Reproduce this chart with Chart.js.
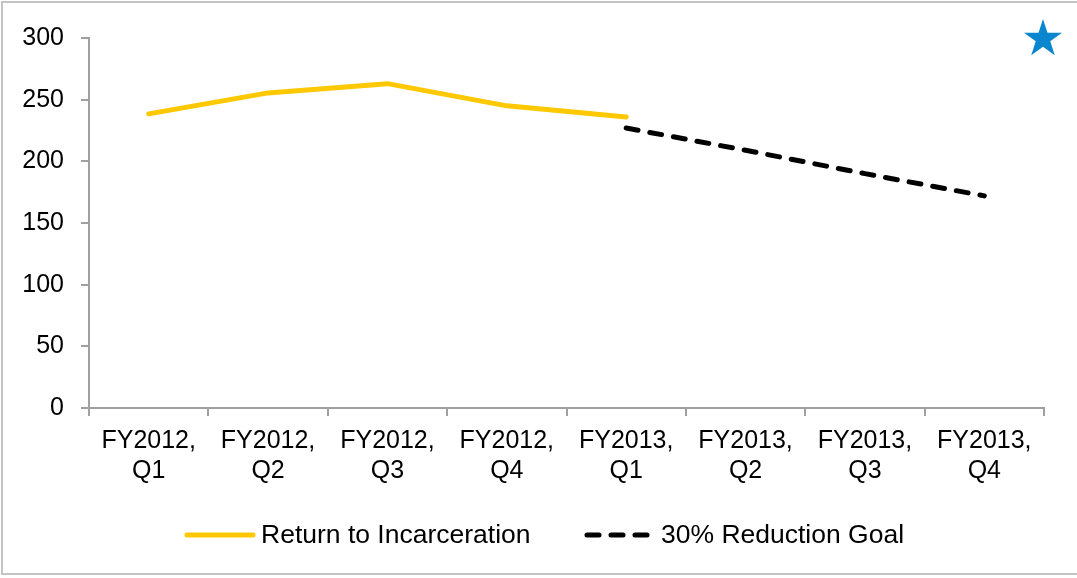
<!DOCTYPE html>
<html>
<head>
<meta charset="utf-8">
<script src="https://cdn.jsdelivr.net/npm/chart.js@4.4.1/dist/chart.umd.min.js"></script>
<style>
  html, body { margin: 0; padding: 0; background: #fff; }
  #wrap { position: relative; width: 1077px; height: 578px; overflow: hidden; }
  #frame { position: absolute; left: 1px; top: 1px; width: 1090px; height: 574px;
           border: 2px solid #c4c4c4; box-sizing: border-box; pointer-events: none; }
</style>
</head>
<body>
<div id="wrap">
  <canvas id="chart" width="1077" height="578"></canvas>
  <div id="frame"></div>
</div>
<script>
/* Return to incarceration vs reduction goal */
const categories = [
  ['FY2012,', 'Q1'], ['FY2012,', 'Q2'], ['FY2012,', 'Q3'], ['FY2012,', 'Q4'],
  ['FY2013,', 'Q1'], ['FY2013,', 'Q2'], ['FY2013,', 'Q3'], ['FY2013,', 'Q4']
];
const returnValues = [238.5, 255.5, 263, 245, 236, null, null, null];
const goalValues = [null, null, null, null, 227, 209, 190, 172];
const yTicks = [0, 50, 100, 150, 200, 250, 300];

const FONT = 'Liberation Sans, Arial, sans-serif';
const AXIS = '#a0a0a0';

// blue star in the top-right corner
const starPlugin = {
  id: 'star',
  afterDraw(chart) {
    const ctx = chart.ctx;
    const cx = 1043, cy = 39, R = 20, r = R * 0.382;
    ctx.save();
    ctx.beginPath();
    for (let i = 0; i < 10; i++) {
      const rad = (i % 2 === 0) ? R : r;
      const a = -Math.PI / 2 + i * Math.PI / 5;
      const px = cx + Math.cos(a) * rad, py = cy + Math.sin(a) * rad;
      if (i === 0) ctx.moveTo(px, py); else ctx.lineTo(px, py);
    }
    ctx.closePath();
    ctx.fillStyle = '#0a86cf';
    ctx.fill();
    ctx.restore();
  }
};

// legend drawn by hand so the spacing matches: line, small gap, text
const legendPlugin = {
  id: 'lineLegend',
  afterDraw(chart) {
    const ctx = chart.ctx;
    const y = 535;
    const starts = [185, 585];
    ctx.save();
    ctx.font = '26.5px ' + FONT;
    ctx.textBaseline = 'middle';
    chart.data.datasets.forEach((ds, i) => {
      const x = starts[i];
      ctx.beginPath();
      ctx.setLineDash(ds.borderDash || []);
      ctx.lineCap = 'round';
      ctx.lineWidth = ds.borderWidth;
      ctx.strokeStyle = ds.borderColor;
      ctx.moveTo(x + 2, y);
      ctx.lineTo(x + 68, y);
      ctx.stroke();
      ctx.setLineDash([]);
      ctx.fillStyle = '#000';
      ctx.fillText(ds.label, x + 76, y + 1);
    });
    ctx.restore();
  }
};

new Chart(document.getElementById('chart'), {
  type: 'line',
  data: {
    labels: categories,
    datasets: [
      { label: 'Return to Incarceration', data: returnValues, borderColor: '#ffc800', backgroundColor: '#ffc800',
        borderWidth: 5, borderCapStyle: 'round', borderJoinStyle: 'round', pointRadius: 0, tension: 0 },
      { label: '30% Reduction Goal', data: goalValues, borderColor: '#000', backgroundColor: '#000',
        borderWidth: 5, borderDash: [12, 12], borderCapStyle: 'round', pointRadius: 0, tension: 0 }
    ]
  },
  options: {
    responsive: false,
    animation: false,
    layout: { padding: { left: 0, right: 33, top: 38, bottom: 70 } },
    plugins: {
      tooltip: { enabled: false },
      legend: { display: false }
    },
    scales: {
      x: {
        offset: true,
        grid: { offset: true, drawOnChartArea: false, tickLength: 8, color: AXIS, lineWidth: 2 },
        border: { display: true, color: AXIS, width: 2 },
        ticks: { color: '#000', padding: 10, maxRotation: 0, autoSkip: false,
                 font: { family: FONT, size: 25, lineHeight: 1.2 } },
        afterFit(s) { s.height = 100; }
      },
      y: {
        min: 0, max: 300,
        afterBuildTicks(s) { s.ticks = yTicks.map(v => ({ value: v })); },
        grid: { drawOnChartArea: false, tickLength: 8, color: AXIS, lineWidth: 2 },
        border: { display: true, color: AXIS, width: 2 },
        ticks: { color: '#000', padding: 17, font: { family: FONT, size: 25 } },
        afterFit(s) { s.width = 89; }
      }
    }
  },
  plugins: [starPlugin, legendPlugin]
});
</script>
</body>
</html>
